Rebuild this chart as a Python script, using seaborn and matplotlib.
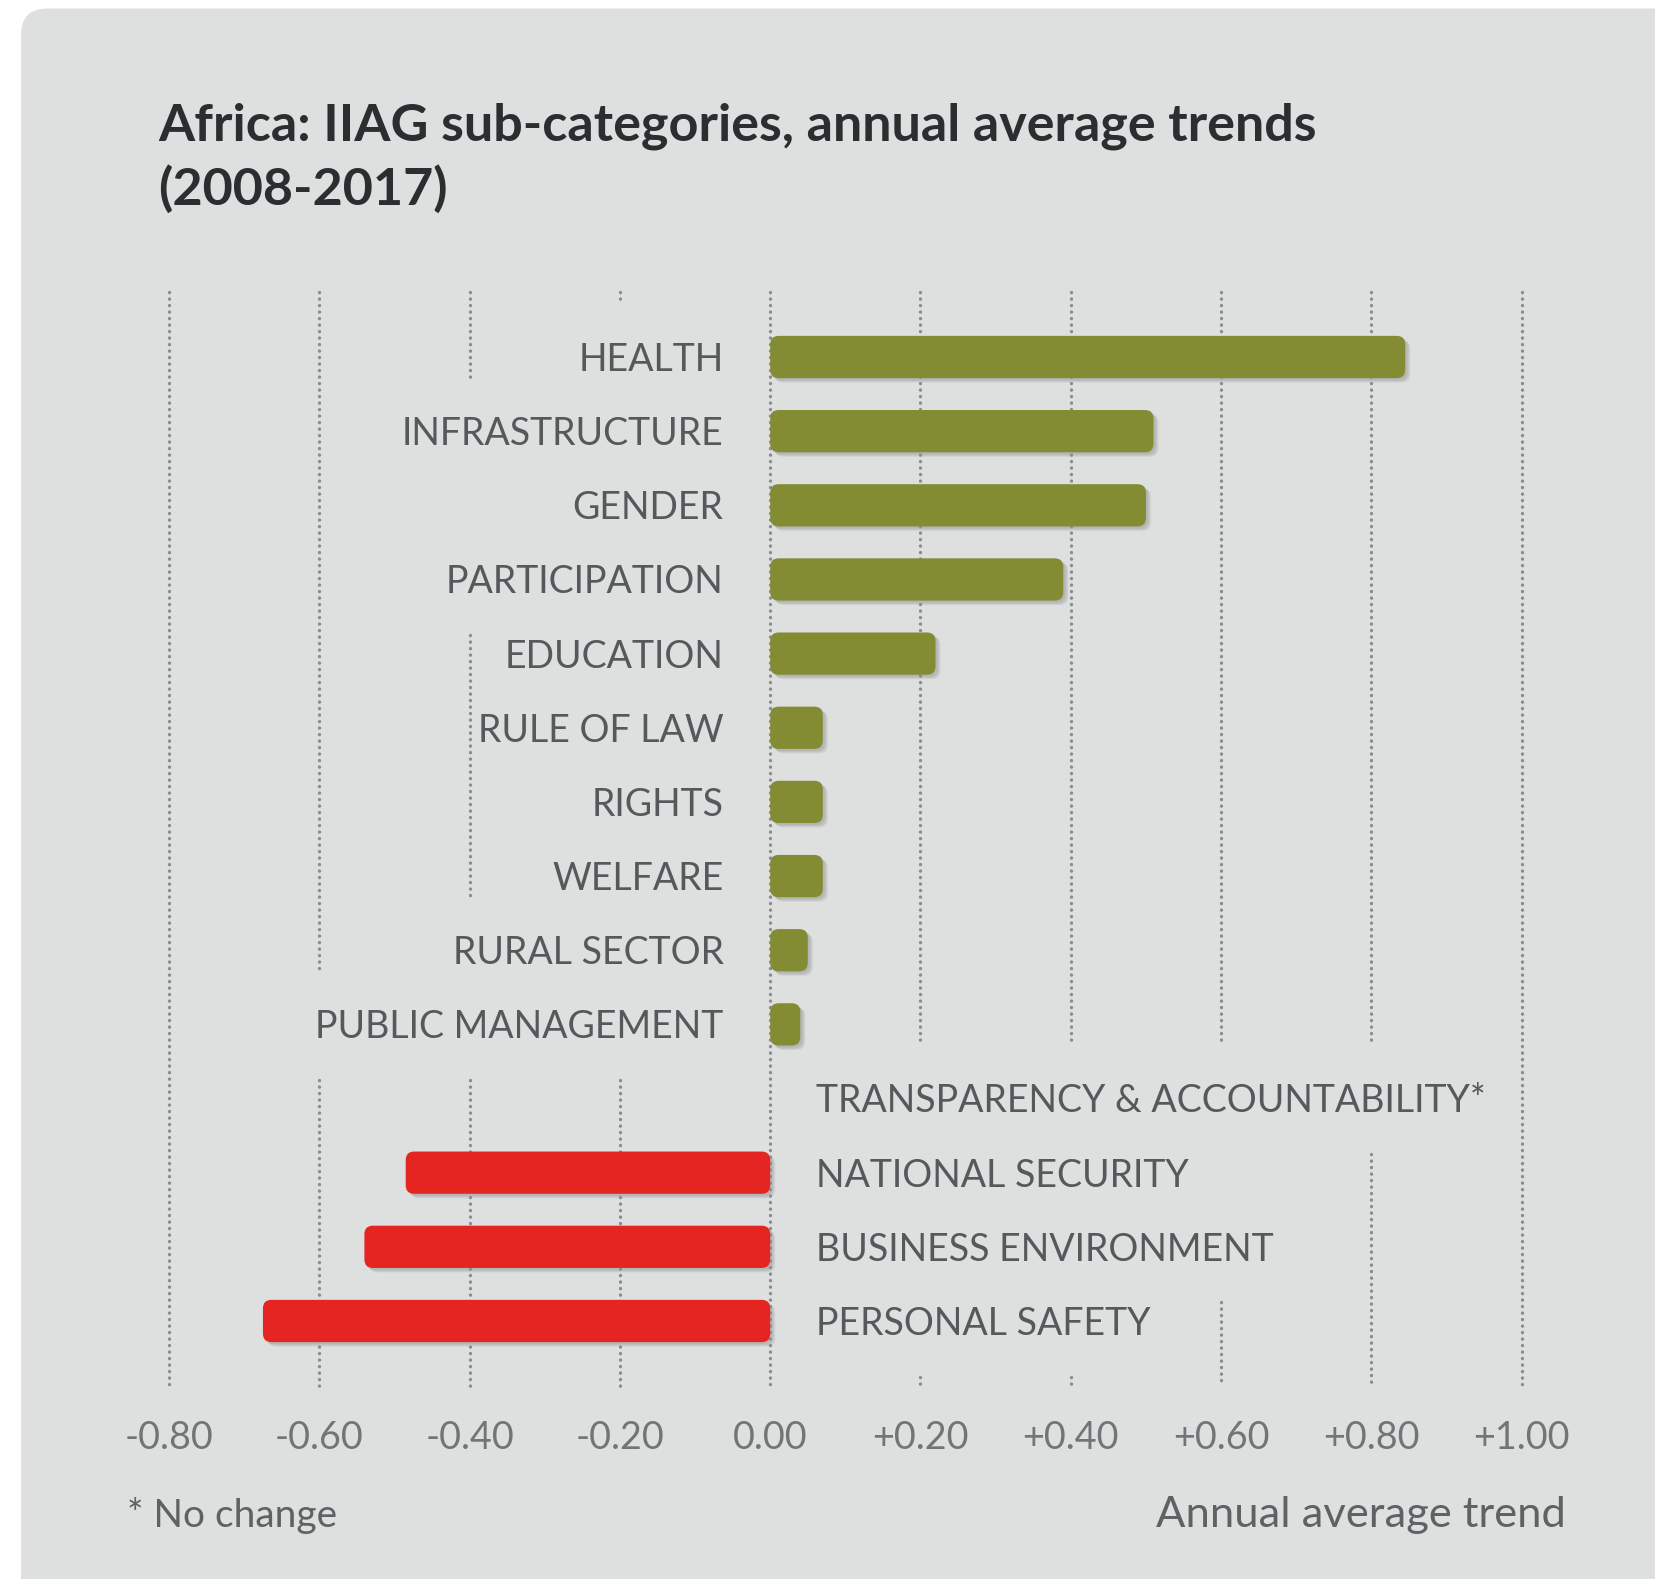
import numpy as np
import pandas as pd
import matplotlib
matplotlib.use("Agg")
import matplotlib.pyplot as plt
import matplotlib.patheffects as pe
from matplotlib.patches import FancyBboxPatch
import seaborn as sns

# Sub-category trends, ordered top to bottom
categories = [
    "HEALTH", "INFRASTRUCTURE", "GENDER", "PARTICIPATION", "EDUCATION",
    "RULE OF LAW", "RIGHTS", "WELFARE", "RURAL SECTOR", "PUBLIC MANAGEMENT",
    "TRANSPARENCY & ACCOUNTABILITY*", "NATIONAL SECURITY",
    "BUSINESS ENVIRONMENT", "PERSONAL SAFETY",
]
trends = [0.845, 0.51, 0.50, 0.39, 0.22, 0.07, 0.07, 0.07, 0.05, 0.04,
          0.00, -0.485, -0.54, -0.675]

tick_values = [-0.8, -0.6, -0.4, -0.2, 0.0, 0.2, 0.4, 0.6, 0.8, 1.0]
tick_labels = ["-0.80", "-0.60", "-0.40", "-0.20", "0.00",
               "+0.20", "+0.40", "+0.60", "+0.80", "+1.00"]

title_text = "Africa: IIAG sub-categories, annual average trends\n(2008-2017)"
note_text = "* No change"
axis_title = "Annual average trend"

PANEL = "#dedfdf"
GREEN = "#838b33"
RED = "#e52521"
LABEL = "#55595c"
TICK = "#727578"
TITLE = "#2b2d30"
GRID = "#8a8c8e"

sns.set_theme(style="white")
plt.rcParams["font.family"] = ["Lato", "DejaVu Sans"]

df = pd.DataFrame({"category": categories, "trend": trends})
df["direction"] = np.where(df["trend"] > 0, "up", "down")

W, H = 1656, 1579
fig = plt.figure(figsize=(W / 100, H / 100), dpi=100, facecolor="white")

# grey card with a rounded top-left corner
card = FancyBboxPatch((21 / W, -0.1), 1.2, 1 - 8.5 / H + 0.1,
                      boxstyle="round,pad=0,rounding_size=0.016",
                      mutation_aspect=W / H, transform=fig.transFigure,
                      facecolor=PANEL, edgecolor="none", zorder=-5)
fig.patches.append(card)

XMIN, XMAX = -0.8, 1.0
YTOP, YBOT = -0.87, 13.87
ax = fig.add_axes([169 / W, 1 - 1385.5 / H, 1352.7 / W, 1093 / H])
ax.set_facecolor("none")

sns.barplot(data=df, y="category", x="trend", hue="direction",
            palette={"up": GREEN, "down": RED}, order=categories,
            orient="h", width=0.57, dodge=False, legend=False,
            saturation=1, ax=ax)

ax.set_xlim(XMIN, XMAX)
ax.set_ylim(YBOT, YTOP)
sns.despine(ax=ax, left=True, bottom=True)
ax.set_yticks([])
ax.set_xlabel("")
ax.set_ylabel("")
ax.set_xticks(tick_values, tick_labels)
ax.tick_params(axis="x", length=0, pad=24.5, labelsize=27.2, labelcolor=TICK)

# swap the square bars for rounded ones with a soft drop shadow
xscale = ax.bbox.width / (XMAX - XMIN)
yscale = ax.bbox.height / (YBOT - YTOP)
radius_px = 8.5
shadow = [
    pe.SimplePatchShadow(offset=(1.5, -1.5), shadow_rgbFace="#8f9191", alpha=0.22),
    pe.SimplePatchShadow(offset=(2.6, -2.4), shadow_rgbFace="#8f9191", alpha=0.22),
    pe.SimplePatchShadow(offset=(3.6, -3.2), shadow_rgbFace="#8f9191", alpha=0.18),
    pe.Normal(),
]
for bar in list(ax.patches):
    x, y = bar.get_x(), bar.get_y()
    w, h = bar.get_width(), bar.get_height()
    color = bar.get_facecolor()
    bar.remove()
    if abs(w) < 1e-9:
        continue
    x0 = min(x, x + w)
    rounded = FancyBboxPatch(
        (x0, y), abs(w), h,
        boxstyle=f"round,pad=0,rounding_size={radius_px / xscale}",
        mutation_aspect=xscale / yscale,
        facecolor=color, edgecolor="none", zorder=3)
    rounded.set_path_effects(shadow)
    ax.add_patch(rounded)

# category labels: left of zero for gains, right of zero otherwise
label_texts = []
for i, (cat, val) in enumerate(zip(categories, trends)):
    if val > 0:
        t = ax.annotate(cat, xy=(0, i), xytext=(-33.6, -10),
                        textcoords="offset points", ha="right", va="baseline",
                        fontsize=27.0, color=LABEL, zorder=4)
    else:
        t = ax.annotate(cat, xy=(0, i), xytext=(33, -10),
                        textcoords="offset points", ha="left", va="baseline",
                        fontsize=27.0, color=LABEL, zorder=4)
    label_texts.append(t)

# dotted gridlines that break around the category labels
fig.canvas.draw()
renderer = fig.canvas.get_renderer()
inv = ax.transData.inverted()
extents = []
for t in label_texts:
    bb = t.get_window_extent(renderer)
    x0 = inv.transform((bb.x0, bb.y0))[0]
    x1 = inv.transform((bb.x1, bb.y0))[0]
    extents.append((x0, x1))

pad = 0.006
for tx in tick_values:
    rows = [i for i, (x0, x1) in enumerate(extents) if x0 - pad <= tx <= x1 + pad]
    runs = []
    for r in rows:
        if runs and r - runs[-1][1] <= 2:
            runs[-1][1] = r
        else:
            runs.append([r, r])
    masks = [(a - 0.72, b + 0.75) for a, b in runs]
    start = YTOP
    segments = []
    for m0, m1 in masks:
        if m0 > start:
            segments.append((start, m0))
        start = max(start, m1)
    if start < YBOT:
        segments.append((start, YBOT))
    for s0, s1 in segments:
        ax.vlines(tx, s0, s1, colors=GRID, linewidth=2.4,
                  linestyles=(0, (0.05, 1.9)), capstyle="round",
                  zorder=1, clip_on=False)

fig.text(158 / W, 1 - 205 / H, title_text, fontsize=37.5, fontweight="bold",
         color=TITLE, ha="left", va="baseline", linespacing=1.37)
fig.text(127 / W, 1 - 1527 / H, note_text, fontsize=28, color="#5f6264",
         ha="left", va="baseline")
fig.text(1566 / W, 1 - 1527 / H, axis_title, fontsize=31.3, color="#5f6264",
         ha="right", va="baseline")

fig.savefig("out.png", dpi=100, facecolor="white")
